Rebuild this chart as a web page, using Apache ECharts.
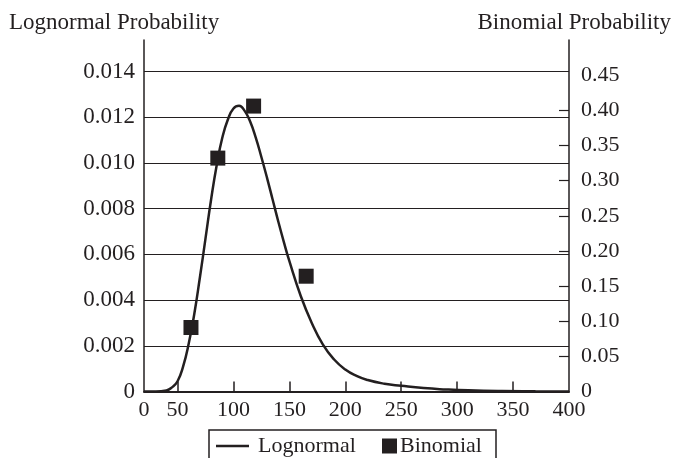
<!DOCTYPE html>
<html>
<head>
<meta charset="utf-8">
<script src="https://cdn.jsdelivr.net/npm/echarts@6/dist/echarts.min.js"></script>
<style>html,body{margin:0;padding:0;background:#fff;}#c{width:674px;height:458px;}</style>
</head>
<body>
<div id="c"></div>
<script>
// Lognormal curve (stock price vs probability density)
var lognormalX = [20, 30, 40, 45, 50, 55, 60, 65, 70, 75, 80, 85, 90, 95, 100, 105, 110, 115, 120, 125, 130, 135, 140, 145, 150, 160, 170, 180, 190, 200, 210, 220, 235, 250, 270, 290, 310, 340, 370, 400];
var lognormalY = [0, 0.000002, 0.00005, 0.00018, 0.00045, 0.0011, 0.0021, 0.0034, 0.0050, 0.0067, 0.0084, 0.0099, 0.0111, 0.0119, 0.01238, 0.01250, 0.01228, 0.01180, 0.01110, 0.01025, 0.00935, 0.00840, 0.00745, 0.00655, 0.00570, 0.00420, 0.00300, 0.00205, 0.00140, 0.00096, 0.00068, 0.00050, 0.00034, 0.00025, 0.00015, 0.00009, 0.00005, 0.00002, 0.00001, 0.000005];
// Binomial tree terminal prices and probabilities
var binomialX = [62, 86, 118, 165];
var binomialY = [0.091, 0.332, 0.406, 0.164];
// Axis ticks
var xLabelValues = [20, 50, 100, 150, 200, 250, 300, 350, 400];
var xTickValues = [50, 100, 150, 200, 250, 300, 350];
var rightLabelValues = [0, 0.05, 0.10, 0.15, 0.20, 0.25, 0.30, 0.35, 0.40, 0.45];
var rightTickValues = [0.05, 0.10, 0.15, 0.20, 0.25, 0.30, 0.35, 0.40];

var INK = '#231f20';
var FONT = 'Liberation Serif';
var FS = 22;

var chart = echarts.init(document.getElementById('c'), null, {renderer: 'canvas'});
var lognormalData = lognormalX.map(function (x, i) { return [x, lognormalY[i]]; });
var binomialData = binomialX.map(function (x, i) { return [x, binomialY[i]]; });

chart.setOption({
  animation: false,
  backgroundColor: '#fff',
  textStyle: {fontFamily: FONT, color: INK},
  title: [
    {text: 'Lognormal Probability', left: 9, top: 11, padding: 0,
     textStyle: {fontFamily: FONT, fontSize: 23, fontWeight: 'normal', color: INK}},
    {text: 'Binomial Probability', right: 3, top: 11, padding: 0,
     textStyle: {fontFamily: FONT, fontSize: 23, fontWeight: 'normal', color: INK}}
  ],
  grid: {left: 144, right: 105, top: 40, bottom: 66.5, containLabel: false},
  legend: [
    {data: [{name: 'Lognormal', icon: 'path://M0,0h66v5h-66z'}], left: 216, top: 435, padding: 0, itemWidth: 33, itemHeight: 14,
     textStyle: {fontFamily: FONT, fontSize: FS, color: INK, padding: [0, 0, 0, 4]}},
    {data: [{name: 'Binomial', icon: 'rect'}], left: 382, top: 435, padding: 0, itemWidth: 15, itemHeight: 15,
     textStyle: {fontFamily: FONT, fontSize: FS, color: INK, padding: [0, 0, 0, -2]}}
  ],
  graphic: [
    {type: 'rect', shape: {x: 209, y: 430, width: 287, height: 40}, silent: true,
     style: {fill: 'none', stroke: INK, lineWidth: 1.5}}
  ],
  xAxis: {
    type: 'value', min: 20, max: 400,
    axisLine: {show: true, lineStyle: {color: INK, width: 2}},
    axisTick: {show: true, inside: true, length: 10, customValues: xTickValues, lineStyle: {color: INK, width: 1.5}},
    axisLabel: {customValues: xLabelValues, margin: 8, fontFamily: FONT, fontSize: FS, color: INK,
      formatter: function (v) { return v === 20 ? '0' : String(v); }},
    splitLine: {show: false}
  },
  yAxis: [
    {
      type: 'value', min: 0, max: 0.01538, interval: 0.002, position: 'left',
      axisLine: {show: true, lineStyle: {color: INK, width: 1.5}},
      axisTick: {show: false},
      axisLabel: {showMaxLabel: false, margin: 9, fontFamily: FONT, fontSize: 23, color: INK,
        formatter: function (v) { return v === 0 ? '0' : v.toFixed(3); }},
      splitLine: {show: true, showMaxLine: false, showMinLine: false, lineStyle: {color: INK, width: 1.2}}
    },
    {
      type: 'value', min: 0, max: 0.5, position: 'right',
      axisLine: {show: true, lineStyle: {color: INK, width: 1.5}},
      axisTick: {show: true, inside: true, length: 10, customValues: rightTickValues, lineStyle: {color: INK, width: 1.2}},
      axisLabel: {customValues: rightLabelValues, margin: 12, fontFamily: FONT, fontSize: FS, color: INK,
        formatter: function (v) { return v === 0 ? '0' : v.toFixed(2); }},
      splitLine: {show: false}
    }
  ],
  series: [
    {
      name: 'Lognormal', type: 'line', yAxisIndex: 0, data: lognormalData,
      smooth: true, showSymbol: false, symbol: 'none',
      lineStyle: {color: INK, width: 2.5}, itemStyle: {color: INK}, z: 3
    },
    {
      name: 'Binomial', type: 'scatter', yAxisIndex: 1, data: binomialData,
      symbol: 'rect', symbolSize: 15,
      itemStyle: {color: INK, opacity: 1}, z: 4
    }
  ]
});
</script>
</body>
</html>
